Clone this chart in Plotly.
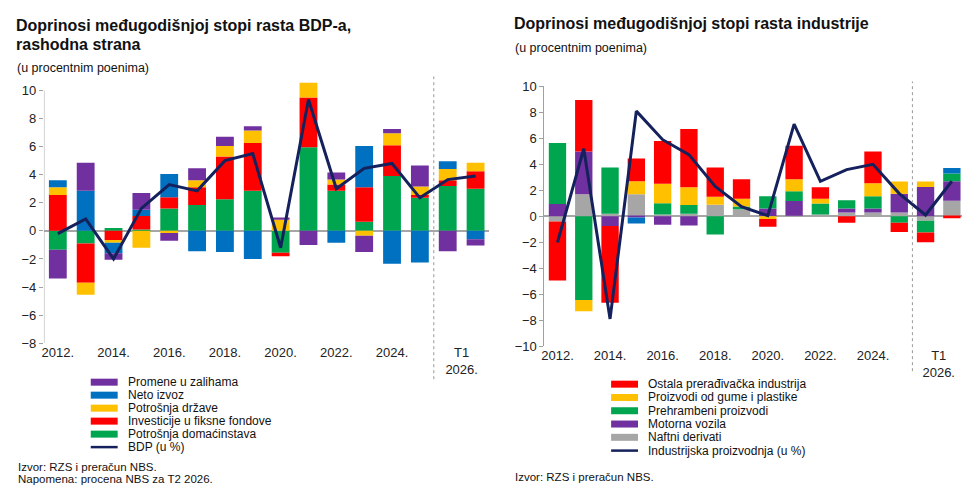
import plotly.graph_objects as go

W, H = 958, 486
# snimak prozora: x = 8 + px_figure, y = 13.5 + 0.97 * py_figure
OX, OY, SY = 8, 13.5, 0.97

# Kategorije (isto za oba grafikona)
kategorije = ["2012.", "2013.", "2014.", "2015.", "2016.", "2017.", "2018.", "2019.",
              "2020.", "2021.", "2022.", "2023.", "2024.", "2025.", "T1 2026.", "T2 2026."]
x_pos = list(range(len(kategorije)))
tick_pozicije = [0, 2, 4, 6, 8, 10, 12, 14.5]
tick_oznake = ["2012.", "2014.", "2016.", "2018.", "2020.", "2022.", "2024.", "T1<br>2026."]

# --- BDP, rashodna strana ---
potrosnja_domacinstava = [-1.35, -0.9, 0.2, 0.1, 1.6, 1.85, 2.25, 2.85, -1.55, 5.95, 2.85, 0.65, 3.9, 2.35, 3.2, 3.0]
investicije = [2.55, -2.8, -0.65, 0.95, 0.8, 1.25, 3.05, 3.4, -0.25, 3.55, 0.45, 2.45, 2.2, 0.2, 0.4, 1.25]
potrosnja_drzave = [0.55, -0.85, -0.2, -1.2, -0.15, 0.5, 0.75, 0.9, 0.8, 1.05, 0.35, -0.35, 0.85, 0.6, 0.8, 0.6]
neto_izvoz = [0.5, 2.85, -0.75, 0.45, 1.65, -1.45, -1.5, -2.0, 0.0, 0.0, -0.85, 2.95, -2.35, -2.25, 0.55, -0.6]
promene_zaliha = [-2.05, 2.0, -0.45, 1.2, -0.55, 0.85, 0.65, 0.3, 0.15, -1.0, 0.5, -1.15, 0.3, 1.5, -1.45, -0.45]
bdp = [-0.2, 0.85, -2.0, 1.6, 3.3, 2.85, 5.0, 5.5, -1.2, 9.35, 3.0, 4.45, 4.8, 2.35, 3.65, 3.9]

# --- Industrija ---
naftni_derivati = [-0.4, 1.7, 0.2, 1.7, 0.15, 0.2, 0.9, 0.55, 0.0, 0.05, 0.15, 0.3, 0.3, 0.3, -0.35, 1.2]
motorna_vozila = [0.95, 3.3, -0.75, -0.1, -0.65, -0.7, 0.0, 0.0, 0.6, 1.13, 0.0, 0.3, 0.3, 1.43, 2.25, 1.5]
prehrambeni = [4.7, -6.45, 3.55, 0.0, 0.85, 0.68, -1.4, 0.2, 0.95, 0.75, 0.83, 0.63, 0.95, -0.5, -0.9, 0.6]
guma_plastika = [0.0, -0.85, 0.0, 1.0, 1.5, 1.35, 0.6, 0.6, -0.2, 0.92, 0.37, 0.0, 1.0, 0.95, 0.43, 0.0]
ostala_preradjivacka = [-4.55, 3.95, -5.9, 1.75, 3.3, 4.5, 2.25, 1.5, -0.6, 2.58, 0.88, -0.5, 2.45, -0.7, -0.75, -0.15]
ostalo = [0.0, 0.0, 0.0, -0.45, 0.0, 0.0, 0.0, 0.0, 0.0, 0.0, 0.0, 0.0, 0.0, 0.0, 0.0, 0.43]
industrijska_proizvodnja = [-2.0, 5.2, -7.9, 8.1, 5.9, 4.75, 2.3, 0.75, 0.05, 7.1, 2.7, 3.6, 4.0, 1.75, 0.1, 2.7]

ZELENA, CRVENA, ZUTA, PLAVA, LJUBICASTA, SIVA = "#00A550", "#FF0000", "#FFC000", "#0070C0", "#7030A0", "#A6A6A6"
TEGET = "#14215C"

levo = [
    ("Potrošnja domaćinstava", potrosnja_domacinstava, ZELENA),
    ("Investicije u fiksne fondove", investicije, CRVENA),
    ("Potrošnja države", potrosnja_drzave, ZUTA),
    ("Neto izvoz", neto_izvoz, PLAVA),
    ("Promene u zalihama", promene_zaliha, LJUBICASTA),
]
desno = [
    ("Naftni derivati", naftni_derivati, SIVA),
    ("Motorna vozila", motorna_vozila, LJUBICASTA),
    ("Prehrambeni proizvodi", prehrambeni, ZELENA),
    ("Proizvodi od gume i plastike", guma_plastika, ZUTA),
    ("Ostala prerađivačka industrija", ostala_preradjivacka, CRVENA),
]

fig = go.Figure()
for ime, vr, boja in levo:
    fig.add_trace(go.Bar(x=x_pos, y=vr, name=ime, marker_color=boja, marker_line_width=0,
                         width=0.64, xaxis="x", yaxis="y", showlegend=False))
fig.add_trace(go.Scatter(x=x_pos, y=bdp, name="BDP (u %)", mode="lines",
                         line=dict(color=TEGET, width=3), xaxis="x", yaxis="y", showlegend=False))
for ime, vr, boja in desno:
    fig.add_trace(go.Bar(x=x_pos, y=vr, name=ime, marker_color=boja, marker_line_width=0,
                         width=0.66, xaxis="x2", yaxis="y2", showlegend=False))
fig.add_trace(go.Bar(x=x_pos, y=ostalo, name="Ostalo", marker_color=PLAVA, marker_line_width=0,
                     width=0.66, xaxis="x2", yaxis="y2", showlegend=False))
fig.add_trace(go.Scatter(x=x_pos, y=industrijska_proizvodnja, name="Industrijska proizvodnja (u %)",
                         mode="lines", line=dict(color=TEGET, width=3), xaxis="x2", yaxis="y2",
                         showlegend=False))

# pikseli snimka -> koordinate papira
def px(v):
    return min(1.0, max(0.0, (v - OX) / W))

def py(v):
    return min(1.0, max(0.0, 1 - (v - OY) / SY / H))

font_osn = "Liberation Sans, Arial, sans-serif"

osa_x = dict(range=[-0.5, 15.5], tickmode="array", tickvals=tick_pozicije, ticktext=tick_oznake,
             showline=False, showgrid=False, zeroline=False, ticks="",
             tickfont=dict(size=13, color="#222", family=font_osn))
osa_y = dict(tickmode="linear", dtick=2, showgrid=False, zeroline=True, zerolinecolor="#A6A6A6",
             zerolinewidth=1.5, ticks="outside", ticklen=4, tickcolor="#A0A0A0",
             tickfont=dict(size=13, color="#222", family=font_osn))

# levi: -8 na 342px, 10 na 89px; opseg do 10.7 da se vidi vrh 2021.
skala_l = (342 - 89) / 18
vrh_l = 89 - 0.7 * skala_l
fig.update_layout(
    xaxis=dict(osa_x, domain=[px(41), px(488)], anchor="y"),
    yaxis=dict(osa_y, domain=[py(342), py(vrh_l)], range=[-8, 10.7], tick0=-8, showline=False,
               anchor="x"),
    xaxis2=dict(osa_x, domain=[px(543), px(965)], anchor="y2"),
    yaxis2=dict(osa_y, domain=[py(345), py(85)], range=[-10, 10], tick0=-10, showline=True,
                linecolor="#A0A0A0", linewidth=1, anchor="x2"),
    barmode="relative",
    bargap=0.3,
    width=W, height=H,
    margin=dict(l=0, r=0, t=0, b=0),
    paper_bgcolor="white", plot_bgcolor="white",
    font=dict(family=font_osn, color="#222"),
)

oblici = [
    # y osa levog grafikona (od -8 do 10)
    dict(type="line", xref="x", yref="y", x0=-0.5, x1=-0.5, y0=-8, y1=10,
         line=dict(color="#A0A0A0", width=1)),
    # isprekidane linije ispred prognoze
    dict(type="line", xref="x", yref="paper", x0=13.5, x1=13.5, y0=py(378), y1=py(75),
         line=dict(color="#999", width=1, dash="dot")),
    dict(type="line", xref="x2", yref="paper", x0=13.5, x1=13.5, y0=py(370), y1=py(80),
         line=dict(color="#999", width=1, dash="dot")),
]
natpisi = []

def naslov(tekst, x, y, vel, bold=False):
    natpisi.append(dict(text=f"<b>{tekst}</b>" if bold else tekst, x=px(x), y=py(y), xref="paper",
                        yref="paper", xanchor="left", yanchor="middle", showarrow=False,
                        font=dict(size=vel, family=font_osn, color="#111")))

naslov("Doprinosi međugodišnjoj stopi rasta BDP-a,", 11, 24, 16, True)
naslov("rashodna strana", 11, 43, 16, True)
naslov("(u procentnim poenima)", 12, 67, 12.5)
naslov("Doprinosi međugodišnjoj stopi rasta industrije", 511, 22, 16, True)
naslov("(u procentnim poenima)", 512, 47, 12.5)
naslov("Izvor: RZS i preračun NBS.", 13, 466, 11.5)
naslov("Napomena: procena NBS za T2 2026.", 13, 478, 11.5)
naslov("Izvor: RZS i preračun NBS.", 512, 476, 11.5)

def legenda(stavke, linija, x_sw, x_txt, y0, korak):
    for i, (ime, boja) in enumerate(stavke + [linija]):
        y = y0 + i * korak
        if i < len(stavke):
            oblici.append(dict(type="rect", xref="paper", yref="paper", x0=px(x_sw), x1=px(x_sw + 27),
                               y0=py(y + 3.5), y1=py(y - 3.5), fillcolor=boja, line=dict(width=0)))
        else:
            oblici.append(dict(type="line", xref="paper", yref="paper", x0=px(x_sw), x1=px(x_sw + 27),
                               y0=py(y), y1=py(y), line=dict(color=boja, width=2.5)))
        natpisi.append(dict(text=ime, x=px(x_txt), y=py(y), xref="paper", yref="paper",
                            xanchor="left", yanchor="middle", showarrow=False,
                            font=dict(size=12, family=font_osn, color="#111")))

legenda([(ime, boja) for ime, _, boja in reversed(levo)], ("BDP (u %)", TEGET), 88, 123, 381, 13)
legenda([(ime, boja) for ime, _, boja in reversed(desno)], ("Industrijska proizvodnja (u %)", TEGET),
        610, 645, 383, 13.3)

fig.update_layout(shapes=oblici, annotations=natpisi)

fig.write_html("out.html")
